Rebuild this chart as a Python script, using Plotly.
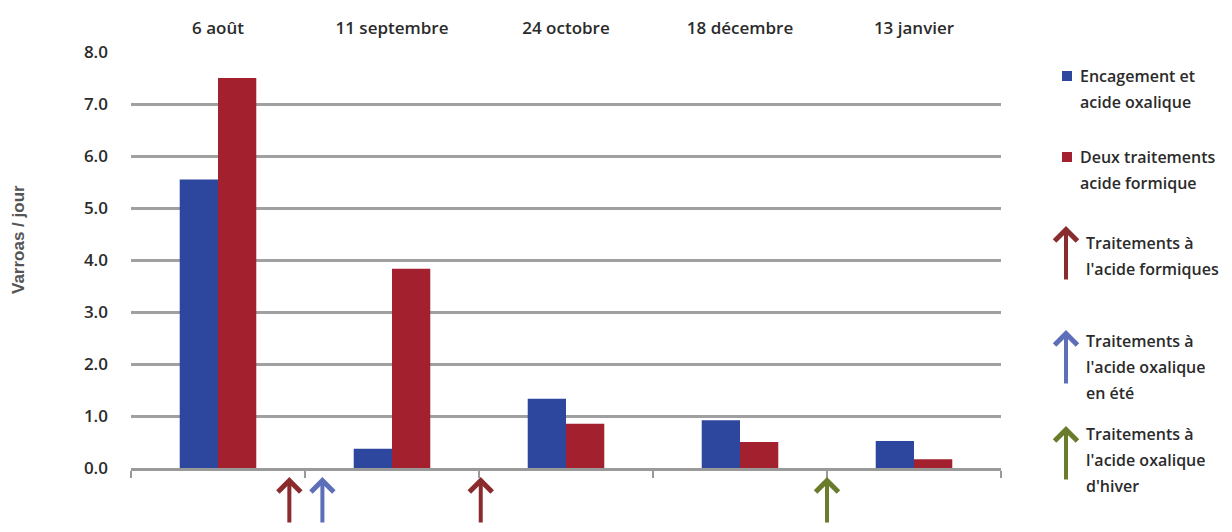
import plotly.graph_objects as go

# données
dates = ['6 août', '11 septembre', '24 octobre', '18 décembre', '13 janvier']
encagement = [5.55, 0.37, 1.33, 0.92, 0.52]
formique = [7.5, 3.83, 0.85, 0.5, 0.17]

# traitements : position (en index de date) et type
trait_pos = [0.41, 0.60, 1.51, 3.50]
trait_type = ['formique', 'oxalique_ete', 'formique', 'oxalique_hiver']

blue = '#2d479f'
red = '#a3202e'
arrow_colors = {'formique': '#8a2b2e', 'oxalique_ete': '#5d6fb9', 'oxalique_hiver': '#687c2c'}

font_txt = 'Open Sans'
txt_col = '#2b2b2b'

# la page ajoute 8 px de marge autour de la figure
OFF = 8
W, H = 1232 - 2 * OFF, 532 - 2 * OFF
L, T = 131 - OFF, 52 - OFF
pw, ph = 870, 416
R, B = W - L - pw, H - T - ph


def px_x(x):
    return (x - OFF - L) / pw


def px_y(y):
    return (T + ph - (y - OFF)) / ph


fig = go.Figure()
fig.add_trace(go.Bar(x=dates, y=encagement, marker_color=blue, marker_line_width=0,
                     name='Encagement et acide oxalique'))
fig.add_trace(go.Bar(x=dates, y=formique, marker_color=red, marker_line_width=0,
                     name='Deux traitements acide formique'))
# axe du bas avec graduations entre les dates
fig.add_trace(go.Scatter(x=[None], y=[None], xaxis='x2', showlegend=False))

fig.update_layout(
    width=W, height=H,
    margin=dict(l=L, r=R, t=T, b=B),
    plot_bgcolor='white', paper_bgcolor='white',
    barmode='group', bargap=0.56, bargroupgap=0,
    showlegend=False,
    xaxis=dict(side='top', range=[-0.5, 4.5], showgrid=False, ticks='',
               ticklabelstandoff=14, automargin=False,
               tickfont=dict(family=font_txt, size=17, color=txt_col, weight=600)),
    xaxis2=dict(overlaying='x', side='bottom', range=[-0.5, 4.5], automargin=False,
                tickvals=[-0.5, 0.5, 1.5, 2.5, 3.5, 4.5], showticklabels=False,
                ticks='outside', ticklen=7, tickwidth=2, tickcolor='#9a9a9a',
                showline=True, linecolor='#9a9a9a', linewidth=3, showgrid=False,
                zeroline=False),
    yaxis=dict(range=[0, 8], dtick=1, tickformat='.1f', showgrid=True, automargin=False,
               gridcolor='#a0a0a0', gridwidth=2.5, zeroline=False,
               ticklabelstandoff=22,
               tickfont=dict(family=font_txt, size=17, color=txt_col, weight=600)),
)

# titre de l'axe vertical
fig.add_annotation(x=px_x(19), y=px_y(240), xref='paper', yref='paper', text='Varroas / jour',
                   textangle=-90, showarrow=False, xanchor='center', yanchor='middle',
                   font=dict(family='Liberation Sans', size=17, color='#555555', weight='bold'))

# flèches des traitements sous l'axe
for p, t in zip(trait_pos, trait_type):
    fig.add_annotation(x=p, xref='x2', y=px_y(477), yref='paper', ax=0, ay=75,
                       text='', showarrow=True, arrowhead=4, arrowsize=1.1,
                       arrowwidth=4, arrowcolor=arrow_colors[t])

# légende dessinée à la main
leg_bars = [(blue, ['Encagement et', 'acide oxalique'], 76),
            (red, ['Deux traitements', 'acide formique'], 157)]
for col, lines, y0 in leg_bars:
    fig.add_shape(type='rect', xref='paper', yref='paper',
                  x0=px_x(1062), x1=px_x(1072), y0=px_y(y0 + 5), y1=px_y(y0 - 5),
                  fillcolor=col, line_width=0)
    for i, ln in enumerate(lines):
        fig.add_annotation(x=px_x(1078), y=px_y(y0 + 26 * i), xref='paper', yref='paper',
                           text=ln, showarrow=False, xanchor='left', yanchor='middle',
                           font=dict(family=font_txt, size=16, color=txt_col, weight=600))

leg_arrows = [('formique', ['Traitements à', "l'acide formiques"], 243, 226),
              ('oxalique_ete', ['Traitements à', "l'acide oxalique", 'en été'], 341, 330),
              ('oxalique_hiver', ['Traitements à', "l'acide oxalique", "d'hiver"], 434, 426)]
for t, lines, y0, tip in leg_arrows:
    fig.add_annotation(x=px_x(1066), y=px_y(tip), xref='paper', yref='paper', ax=0, ay=55,
                       text='', showarrow=True, arrowhead=4, arrowsize=1.1,
                       arrowwidth=4, arrowcolor=arrow_colors[t])
    for i, ln in enumerate(lines):
        fig.add_annotation(x=px_x(1084), y=px_y(y0 + 26 * i), xref='paper', yref='paper',
                           text=ln, showarrow=False, xanchor='left', yanchor='middle',
                           font=dict(family=font_txt, size=16, color=txt_col, weight=600))

fig.write_html('out.html')
